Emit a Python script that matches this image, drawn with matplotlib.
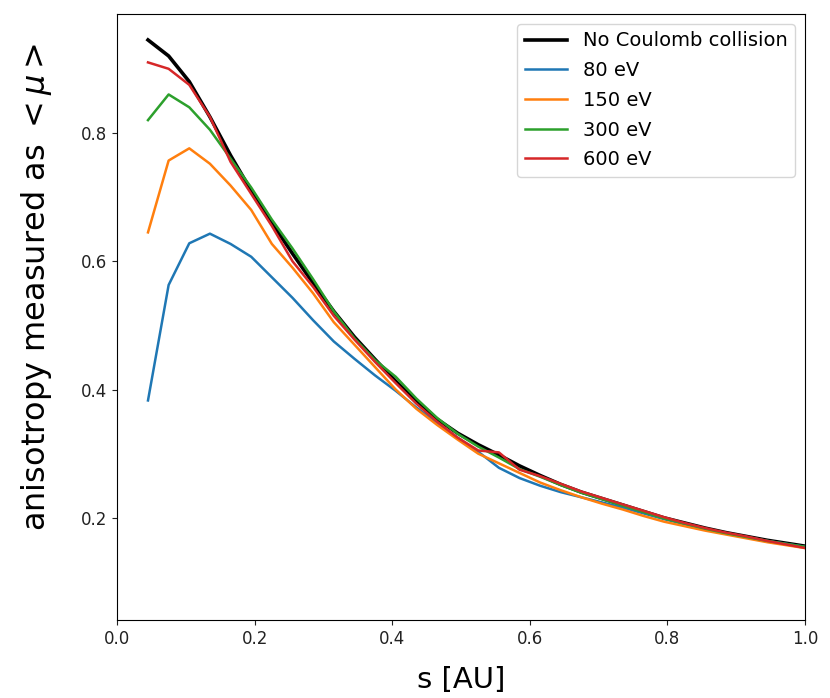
import numpy as np
import matplotlib
matplotlib.use("Agg")
import matplotlib.pyplot as plt

# bin centres along s [AU]
s = [0.045, 0.075, 0.105, 0.135, 0.165, 0.195, 0.225, 0.255, 0.285, 0.315,
     0.345, 0.375, 0.405, 0.435, 0.465, 0.495, 0.525, 0.555, 0.585, 0.615,
     0.645, 0.675, 0.705, 0.735, 0.765, 0.795, 0.825, 0.855, 0.885, 0.915,
     0.945, 0.975, 1.005]

no_coulomb = [0.945, 0.920, 0.880, 0.825, 0.765, 0.710, 0.660, 0.612, 0.566, 0.522,
              0.482, 0.447, 0.413, 0.382, 0.354, 0.332, 0.314, 0.298, 0.281, 0.266,
              0.252, 0.240, 0.230, 0.220, 0.210, 0.200, 0.192, 0.184, 0.177, 0.171,
              0.165, 0.160, 0.155]

mu_80 = [0.383, 0.563, 0.628, 0.643, 0.627, 0.607, 0.575, 0.543, 0.508, 0.475,
         0.448, 0.422, 0.398, 0.372, 0.348, 0.325, 0.303, 0.278, 0.262, 0.250,
         0.240, 0.232, 0.224, 0.216, 0.207, 0.198, 0.190, 0.182, 0.176, 0.170,
         0.164, 0.159, 0.154]

mu_150 = [0.645, 0.757, 0.776, 0.752, 0.718, 0.680, 0.627, 0.590, 0.550, 0.505,
          0.470, 0.435, 0.400, 0.370, 0.345, 0.322, 0.300, 0.285, 0.270, 0.255,
          0.243, 0.232, 0.222, 0.213, 0.203, 0.194, 0.187, 0.180, 0.174, 0.168,
          0.162, 0.157, 0.152]

mu_300 = [0.820, 0.860, 0.840, 0.805, 0.760, 0.715, 0.665, 0.620, 0.572, 0.522,
          0.480, 0.446, 0.420, 0.386, 0.356, 0.331, 0.311, 0.294, 0.276, 0.264,
          0.251, 0.239, 0.229, 0.219, 0.209, 0.199, 0.191, 0.183, 0.176, 0.170,
          0.164, 0.159, 0.154]

mu_600 = [0.910, 0.900, 0.875, 0.825, 0.755, 0.705, 0.655, 0.600, 0.560, 0.515,
          0.478, 0.443, 0.410, 0.378, 0.350, 0.325, 0.305, 0.302, 0.275, 0.265,
          0.253, 0.241, 0.231, 0.221, 0.211, 0.201, 0.192, 0.184, 0.177, 0.171,
          0.164, 0.158, 0.152]

series = [("80 eV", mu_80, "#1f77b4"),
          ("150 eV", mu_150, "#ff7f0e"),
          ("300 eV", mu_300, "#2ca02c"),
          ("600 eV", mu_600, "#d62728")]

fig = plt.figure(figsize=(8.3, 6.98), dpi=100)
ax = fig.add_axes([0.141, 0.112, 0.829, 0.868])

ax.plot(s, no_coulomb, color="black", lw=2.6, label="No Coulomb collision")
for lab, vals, col in series:
    ax.plot(s, vals, color=col, lw=1.8, label=lab)

ax.set_xlim(0.0, 1.0)
ax.set_ylim(0.041, 0.9855)
ax.set_xticks([0.0, 0.2, 0.4, 0.6, 0.8, 1.0])
ax.set_yticks([0.2, 0.4, 0.6, 0.8])
ax.tick_params(labelsize=12, colors="#222222")
ax.set_xlabel("s [AU]", fontsize=21, labelpad=13)
ax.set_ylabel(r"anisotropy measured as $<\mu>$", fontsize=23)
ax.yaxis.set_label_coords(-0.092, 0.55)
ax.legend(loc="upper right", fontsize=14, handlelength=2.2, labelspacing=0.55)

fig.savefig("out.png", dpi=100)
